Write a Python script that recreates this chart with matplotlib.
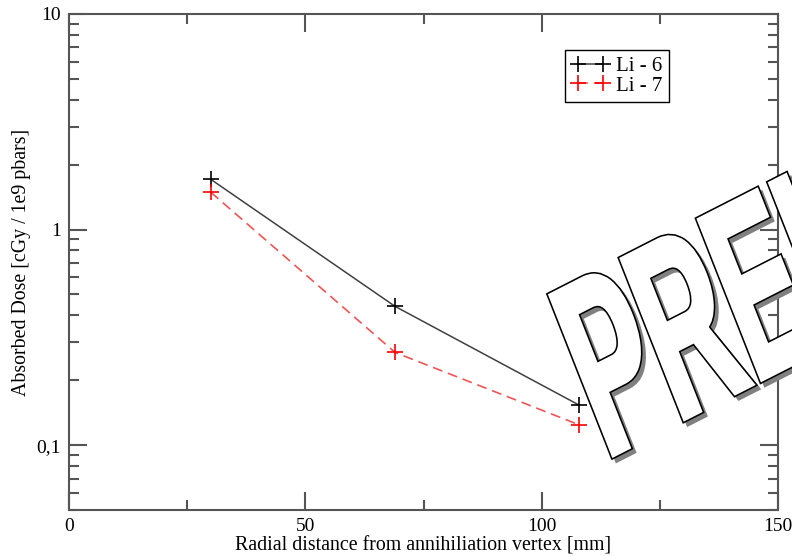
import matplotlib
matplotlib.use("Agg")
import matplotlib.pyplot as plt
import numpy as np
from matplotlib.textpath import TextPath
from matplotlib.patches import PathPatch
from matplotlib.font_manager import FontProperties
from matplotlib.transforms import Affine2D
from matplotlib.ticker import FixedLocator, FixedFormatter, NullFormatter

# ---- data ----
distance = [30, 69, 108]
li6 = [1.71, 0.44, 0.153]
li7 = [1.49, 0.269, 0.124]
series_labels = ["Li - 6", "Li - 7"]
xticks = [0, 50, 100, 150]
xtick_labels = ["0", "50", "100", "150"]
yticks = [0.1, 1, 10]
ytick_labels = ["0,1", "1", "10"]
xlabel = "Radial distance from annihiliation vertex [mm]"
ylabel = "Absorbed Dose [cGy / 1e9 pbars]"
watermark = "PRELIMINARY"

plt.rcParams['font.family'] = ['Liberation Serif', 'DejaVu Serif']

W, H = 792, 556
fig = plt.figure(figsize=(W / 100, H / 100), dpi=100)
ax = fig.add_axes([69 / W, (H - 510) / H, (778 - 69) / W, (510 - 14) / H])

ax.plot(distance, li6, color='#404040', lw=1.1, marker='+', ms=12, mew=1.2,
        mec='black', label=series_labels[0])
ax.plot(distance, li7, color='#ee5555', lw=1.2, ls=(0, (6, 3.5)), marker='+', ms=12,
        mew=1.2, mec='red', label=series_labels[1])

ax.set_yscale('log')
ax.set_xlim(0, 150)
ax.set_ylim(0.05, 10)

spine_c = '#555555'
for s in ax.spines.values():
    s.set_color(spine_c)
    s.set_linewidth(1.5)

ax.xaxis.set_major_locator(FixedLocator(xticks))
ax.xaxis.set_major_formatter(FixedFormatter(xtick_labels))
ax.xaxis.set_minor_locator(FixedLocator([25, 75, 125]))
ax.yaxis.set_major_locator(FixedLocator(yticks))
ax.yaxis.set_major_formatter(FixedFormatter(ytick_labels))
minor_y = [m * d for d in (0.01, 0.1, 1) for m in range(2, 10)]
ax.yaxis.set_minor_locator(FixedLocator(minor_y))
ax.yaxis.set_minor_formatter(NullFormatter())

ax.tick_params(which='both', direction='in', top=True, right=True, color=spine_c,
               labelsize=14, labelcolor='black')
ax.tick_params(which='major', length=13, width=1.5, pad=6)
ax.tick_params(which='minor', length=7, width=1.5)

ax.set_xlabel(xlabel, fontsize=14.3, labelpad=1)
ax.set_ylabel(ylabel, fontsize=14.3, labelpad=4)

leg = ax.legend(loc='upper right', bbox_to_anchor=(0.846, 0.927), borderaxespad=0,
                fancybox=False, edgecolor='black', fontsize=15, numpoints=2,
                handlelength=1.8, handletextpad=0.35, labelspacing=0.0,
                borderpad=0.3, framealpha=1)
leg.get_frame().set_linewidth(1.0)

# ---- watermark ----
fp = FontProperties(family='Liberation Sans', weight='bold')
tp = TextPath((0, 0), watermark, size=1, prop=fp)
grow_px = 4.0
sx, sy = 120, (183 - grow_px) / 0.716
ab = np.deg2rad(27.0)
av = np.deg2rad(111.5)
u = np.array([np.cos(ab), np.sin(ab)])
v = np.array([np.cos(av), np.sin(av)])
ox, oy = np.array([613.0, H - 457.0]) - 0.07 * sx * u + (grow_px / 2) * (u + v) * 0.7
mat = np.array([[sx * u[0], sy * v[0], ox],
                [sx * u[1], sy * v[1], oy],
                [0, 0, 1]])
tr = Affine2D(mat)
pt = 72.0 / 100.0
shadow = PathPatch(tp, facecolor='#808080', edgecolor='#808080', lw=(grow_px + 2) * pt,
                   joinstyle='miter', transform=tr + Affine2D().translate(4, -4), zorder=10)
outline = PathPatch(tp, facecolor='black', edgecolor='black', lw=(grow_px + 3.2) * pt,
                    joinstyle='miter', transform=tr, zorder=11)
main = PathPatch(tp, facecolor='white', edgecolor='white', lw=grow_px * pt,
                 joinstyle='miter', transform=tr, zorder=12)
for p in (shadow, outline, main):
    fig.add_artist(p)

fig.savefig('out.png', dpi=100)
